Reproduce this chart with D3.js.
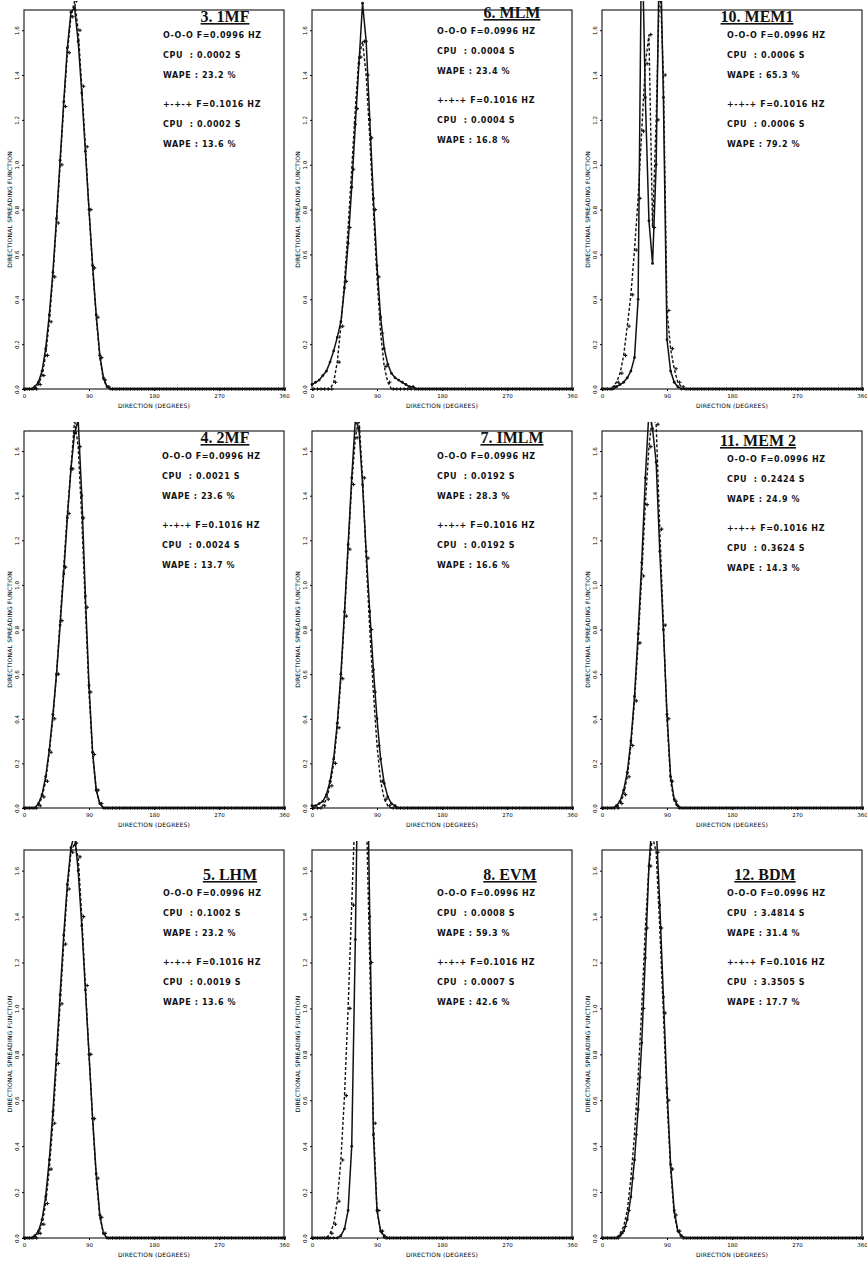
<!DOCTYPE html>
<html lang="en">
<head>
<meta charset="UTF-8">
<title>Directional spreading function - 9 methods</title>
<script src="https://d3js.org/d3.v7.min.js"></script>
<style>
  body { margin: 0; background: #fff; }
  svg { display: block; }
  .tick-lab { font-family: "DejaVu Sans", sans-serif; font-size: 5.5px; fill: #000; }
  .ax-title { font-family: "DejaVu Sans", sans-serif; font-size: 6px; fill: #000; letter-spacing: 0.2px; }
  .ptitle { font-family: "Liberation Serif", serif; font-weight: bold; font-size: 16px; fill: #111; text-decoration: underline; }
  .info { font-family: "DejaVu Sans", sans-serif; font-weight: bold; font-size: 8px; fill: #111; letter-spacing: 0.6px; }
</style>
</head>
<body>
<svg width="867" height="1261"></svg>
<script>
// direction grid (degrees)
var dirs = [0,5,10,15,20,25,30,35,40,45,50,55,60,65,70,75,80,85,90,95,100,105,110,115,
  120,125,130,135,140,145,150,155,160,165,170,175,180,185,190,195,200,205,210,215,220,225,230,235,
  240,245,250,255,260,265,270,275,280,285,290,295,300,305,310,315,320,325,330,335,340,345,350,355,360];

var xTicks = [0, 90, 180, 270, 360];
var yTicks = [0, 0.2, 0.4, 0.6, 0.8, 1.0, 1.2, 1.4, 1.6];

var titles = ["3. 1MF", "6. MLM", "10. MEM1", "4. 2MF", "7. IMLM", "11. MEM 2", "5. LHM", "8. EVM", "12. BDM"];
var freqA = "0.0996", freqB = "0.1016";
var cpuA  = ["0.0002", "0.0004", "0.0006", "0.0021", "0.0192", "0.2424", "0.1002", "0.0008", "3.4814"];
var wapeA = ["23.2", "23.4", "65.3", "23.6", "28.3", "24.9", "23.2", "59.3", "31.4"];
var cpuB  = ["0.0002", "0.0004", "0.0006", "0.0024", "0.0192", "0.3624", "0.0019", "0.0007", "3.3505"];
var wapeB = ["13.6", "16.8", "79.2", "13.7", "16.6", "14.3", "13.6", "42.6", "17.7"];

// series o-o-o (F=0.0996 Hz), one per panel
var mf1_o = [0,0,0,0.01,0.03,0.08,0.18,0.33,0.52,0.76,1.02,1.28, 1.52,1.68,1.70,1.55,1.32,1.06,0.80,0.55,0.33,0.15,0.05,0.01,
  0,0,0,0,0,0,0,0,0,0,0,0, 0,0,0,0,0,0,0,0,0,0,0,0, 0,0,0,0,0,0,0,0,0,0,0,0, 0,0,0,0,0,0,0,0,0,0,0,0, 0];
var mlm_o = [0.02,0.03,0.04,0.06,0.08,0.12,0.17,0.23,0.30,0.45,0.65,0.90, 1.18,1.45,1.72,1.55,1.20,0.85,0.55,0.32,0.18,0.11,0.07,0.05,
  0.04,0.03,0.02,0.01,0.01,0,0,0,0,0,0,0, 0,0,0,0,0,0,0,0,0,0,0,0, 0,0,0,0,0,0,0,0,0,0,0,0, 0,0,0,0,0,0,0,0,0,0,0,0, 0];
var mem1_o = [0,0,0,0,0.01,0.02,0.03,0.05,0.08,0.14,0.40,2.10, 1.30,0.75,0.56,1.00,2.10,1.30,0.22,0.08,0.03,0.01,0,0,
  0,0,0,0,0,0,0,0,0,0,0,0, 0,0,0,0,0,0,0,0,0,0,0,0, 0,0,0,0,0,0,0,0,0,0,0,0, 0,0,0,0,0,0,0,0,0,0,0,0, 0];
var mf2_o = [0,0,0,0,0.02,0.06,0.14,0.26,0.42,0.60,0.82,1.05, 1.30,1.52,1.68,1.74,1.40,0.95,0.55,0.25,0.08,0.02,0,0,
  0,0,0,0,0,0,0,0,0,0,0,0, 0,0,0,0,0,0,0,0,0,0,0,0, 0,0,0,0,0,0,0,0,0,0,0,0, 0,0,0,0,0,0,0,0,0,0,0,0, 0];
var imlm_o = [0.01,0.01,0.02,0.03,0.06,0.12,0.22,0.38,0.60,0.88,1.18,1.48, 1.74,1.70,1.45,1.15,0.88,0.62,0.40,0.22,0.11,0.05,0.02,0.01,
  0,0,0,0,0,0,0,0,0,0,0,0, 0,0,0,0,0,0,0,0,0,0,0,0, 0,0,0,0,0,0,0,0,0,0,0,0, 0,0,0,0,0,0,0,0,0,0,0,0, 0];
var mem2_o = [0,0,0,0,0.01,0.03,0.08,0.16,0.30,0.50,0.78,1.10, 1.48,1.78,1.70,1.55,1.15,0.80,0.42,0.14,0.04,0.01,0,0,
  0,0,0,0,0,0,0,0,0,0,0,0, 0,0,0,0,0,0,0,0,0,0,0,0, 0,0,0,0,0,0,0,0,0,0,0,0, 0,0,0,0,0,0,0,0,0,0,0,0, 0];
var lhm_o = [0,0,0,0.01,0.03,0.08,0.18,0.34,0.55,0.80,1.06,1.32, 1.54,1.70,1.76,1.60,1.36,1.08,0.80,0.52,0.28,0.10,0.02,0,
  0,0,0,0,0,0,0,0,0,0,0,0, 0,0,0,0,0,0,0,0,0,0,0,0, 0,0,0,0,0,0,0,0,0,0,0,0, 0,0,0,0,0,0,0,0,0,0,0,0, 0];
var evm_o = [0,0,0,0,0,0,0,0,0.01,0.04,0.12,0.40, 1.30,2.40,2.80,2.40,1.40,0.45,0.12,0.03,0.01,0,0,0,
  0,0,0,0,0,0,0,0,0,0,0,0, 0,0,0,0,0,0,0,0,0,0,0,0, 0,0,0,0,0,0,0,0,0,0,0,0, 0,0,0,0,0,0,0,0,0,0,0,0, 0];
var bdm_o = [0,0,0,0,0,0.01,0.03,0.08,0.18,0.34,0.56,0.85, 1.22,1.62,1.85,1.80,1.45,1.05,0.65,0.32,0.12,0.03,0.01,0,
  0,0,0,0,0,0,0,0,0,0,0,0, 0,0,0,0,0,0,0,0,0,0,0,0, 0,0,0,0,0,0,0,0,0,0,0,0, 0,0,0,0,0,0,0,0,0,0,0,0, 0];

// series +-+-+ (F=0.1016 Hz)
var mf1_p = [0,0,0,0,0.02,0.06,0.15,0.30,0.50,0.74,1.00,1.26, 1.50,1.66,1.73,1.60,1.35,1.08,0.80,0.54,0.32,0.14,0.04,0.01,
  0,0,0,0,0,0,0,0,0,0,0,0, 0,0,0,0,0,0,0,0,0,0,0,0, 0,0,0,0,0,0,0,0,0,0,0,0, 0,0,0,0,0,0,0,0,0,0,0,0, 0];
var mlm_p = [0,0,0,0,0,0,0.03,0.12,0.28,0.48,0.72,0.98, 1.25,1.48,1.55,1.40,1.12,0.80,0.50,0.25,0.10,0.03,0,0,
  0,0,0,0,0,0,0,0,0,0,0,0, 0,0,0,0,0,0,0,0,0,0,0,0, 0,0,0,0,0,0,0,0,0,0,0,0, 0,0,0,0,0,0,0,0,0,0,0,0, 0];
var mem1_p = [0,0,0,0.01,0.03,0.07,0.15,0.28,0.42,0.62,0.85,1.15, 1.45,1.58,0.72,1.20,1.85,1.40,0.35,0.18,0.09,0.03,0.01,0,
  0,0,0,0,0,0,0,0,0,0,0,0, 0,0,0,0,0,0,0,0,0,0,0,0, 0,0,0,0,0,0,0,0,0,0,0,0, 0,0,0,0,0,0,0,0,0,0,0,0, 0];
var mf2_p = [0,0,0,0,0.01,0.05,0.12,0.25,0.40,0.60,0.84,1.08, 1.32,1.52,1.74,1.62,1.30,0.90,0.52,0.24,0.08,0.02,0,0,
  0,0,0,0,0,0,0,0,0,0,0,0, 0,0,0,0,0,0,0,0,0,0,0,0, 0,0,0,0,0,0,0,0,0,0,0,0, 0,0,0,0,0,0,0,0,0,0,0,0, 0];
var imlm_p = [0,0,0,0.01,0.04,0.10,0.20,0.36,0.58,0.86,1.16,1.45, 1.66,1.75,1.48,1.12,0.80,0.52,0.28,0.12,0.04,0.01,0,0,
  0,0,0,0,0,0,0,0,0,0,0,0, 0,0,0,0,0,0,0,0,0,0,0,0, 0,0,0,0,0,0,0,0,0,0,0,0, 0,0,0,0,0,0,0,0,0,0,0,0, 0];
var mem2_p = [0,0,0,0,0,0.02,0.06,0.14,0.28,0.48,0.74,1.04, 1.36,1.62,1.76,1.72,1.25,0.82,0.40,0.12,0.03,0,0,0,
  0,0,0,0,0,0,0,0,0,0,0,0, 0,0,0,0,0,0,0,0,0,0,0,0, 0,0,0,0,0,0,0,0,0,0,0,0, 0,0,0,0,0,0,0,0,0,0,0,0, 0];
var lhm_p = [0,0,0,0,0.02,0.06,0.15,0.30,0.50,0.76,1.02,1.28, 1.52,1.68,1.72,1.66,1.40,1.10,0.80,0.52,0.26,0.09,0.02,0,
  0,0,0,0,0,0,0,0,0,0,0,0, 0,0,0,0,0,0,0,0,0,0,0,0, 0,0,0,0,0,0,0,0,0,0,0,0, 0,0,0,0,0,0,0,0,0,0,0,0, 0];
var evm_p = [0,0,0,0,0,0.02,0.06,0.16,0.34,0.62,1.00,1.45, 1.90,2.20,2.20,1.90,1.20,0.50,0.12,0.03,0,0,0,0,
  0,0,0,0,0,0,0,0,0,0,0,0, 0,0,0,0,0,0,0,0,0,0,0,0, 0,0,0,0,0,0,0,0,0,0,0,0, 0,0,0,0,0,0,0,0,0,0,0,0, 0];
var bdm_p = [0,0,0,0,0,0.02,0.05,0.12,0.26,0.45,0.70,1.00, 1.35,1.62,1.75,1.68,1.35,0.98,0.60,0.30,0.10,0.03,0,0,
  0,0,0,0,0,0,0,0,0,0,0,0, 0,0,0,0,0,0,0,0,0,0,0,0, 0,0,0,0,0,0,0,0,0,0,0,0, 0,0,0,0,0,0,0,0,0,0,0,0, 0];

// panel order: row by row
var seriesO = [mf1_o, mlm_o, mem1_o, mf2_o, imlm_o, mem2_o, lhm_o, evm_o, bdm_o];
var seriesP = [mf1_p, mlm_p, mem1_p, mf2_p, imlm_p, mem2_p, lhm_p, evm_p, bdm_p];

// layout
var colX = [24, 312, 602], plotW = 260;
var rowTop = [10, 431, 850], rowBot = [389, 808, 1238];
var textTop = [12, 8, 12, 433, 433, 436, 870, 870, 870];
var textLeft = [163, 437, 727, 162, 437, 727, 163, 437, 727];
var titleX = [225, 512, 757, 225, 512, 758, 230, 510, 765];

var svg = d3.select("svg");
svg.append("rect").attr("width", 867).attr("height", 1261).attr("fill", "#fff");

titles.forEach(function(t, i) {
    var c = i % 3, r = Math.floor(i / 3);
    var x0 = colX[c], y0 = rowTop[r], y1 = rowBot[r];

    var x = d3.scaleLinear().domain([0, 360]).range([x0, x0 + plotW]);
    var y = d3.scaleLinear().domain([0, 1.69]).range([y1, y0]);

    var g = svg.append("g");

    // clip lets peaks poke a little above the frame
    svg.append("clipPath").attr("id", "clip" + i)
        .append("rect").attr("x", x0 - 2).attr("y", Math.max(0, y0 - 9))
        .attr("width", plotW + 4).attr("height", y1 - Math.max(0, y0 - 9) + 3);

    // axes
    var xAxis = d3.axisBottom(x).tickValues(xTicks).tickSize(2).tickPadding(3)
        .tickFormat(d3.format("d"));
    g.append("g").attr("transform", "translate(0," + y1 + ")").call(xAxis)
        .call(function(s) {
            s.select(".domain").remove();
            s.selectAll("line").attr("stroke", "#000");
            s.selectAll("text").attr("class", "tick-lab").attr("font-size", null)
                .attr("font-family", null).attr("fill", null);
        });

    var yAxis = d3.axisLeft(y).tickValues(yTicks).tickSize(2).tickPadding(0)
        .tickFormat(d3.format(".1f"));
    g.append("g").attr("transform", "translate(" + x0 + ",0)").call(yAxis)
        .call(function(s) {
            s.select(".domain").remove();
            s.selectAll("line").attr("stroke", "#000");
            s.selectAll("text").attr("class", "tick-lab").attr("font-size", null)
                .attr("font-family", null).attr("fill", null)
                .attr("text-anchor", "middle").attr("dy", null)
                .attr("transform", "translate(-5,0) rotate(-90)").attr("x", 0).attr("y", 0);
        });

    // frame
    g.append("rect").attr("x", x0).attr("y", y0).attr("width", plotW).attr("height", y1 - y0)
        .attr("fill", "none").attr("stroke", "#111").attr("stroke-width", 1.1);

    // axis titles
    g.append("text").attr("class", "ax-title").attr("x", x0 + plotW / 2).attr("y", y1 + 19)
        .attr("text-anchor", "middle").text("DIRECTION (DEGREES)");
    g.append("text").attr("class", "ax-title")
        .attr("transform", "translate(" + (x0 - 12) + "," + ((y0 + y1) / 2 + 10) + ") rotate(-90)")
        .attr("text-anchor", "middle").text("DIRECTIONAL SPREADING FUNCTION");

    // curves
    var line = d3.line().x(function(d) { return x(d[0]); }).y(function(d) { return y(d[1]); });
    var ptsO = dirs.map(function(d, k) { return [d, seriesO[i][k]]; });
    var ptsP = dirs.map(function(d, k) { return [d, seriesP[i][k]]; });

    var cg = g.append("g").attr("clip-path", "url(#clip" + i + ")");
    cg.append("path").datum(ptsO).attr("d", line).attr("fill", "none")
        .attr("stroke", "#111").attr("stroke-width", 1.5);
    cg.append("path").datum(ptsP).attr("d", line).attr("fill", "none")
        .attr("stroke", "#111").attr("stroke-width", 1.4).attr("stroke-dasharray", "3,2");

    cg.selectAll(".mo").data(ptsO).enter().append("circle")
        .attr("cx", function(d) { return x(d[0]); }).attr("cy", function(d) { return y(d[1]); })
        .attr("r", 1.4).attr("fill", "#111");
    cg.selectAll(".mp").data(ptsP).enter().append("path")
        .attr("d", function(d) {
            var px = x(d[0]) + 1.8, py = y(d[1]);
            return "M" + (px - 1.8) + "," + py + "h3.6M" + px + "," + (py - 1.8) + "v3.6";
        })
        .attr("stroke", "#111").attr("stroke-width", 1.1);

    // title + info block
    g.append("text").attr("class", "ptitle").attr("x", titleX[i]).attr("y", textTop[i] + 10)
        .attr("text-anchor", "middle").text(t);

    var lines = [
        ["O-O-O F=" + freqA + " HZ", 26],
        ["CPU  : " + cpuA[i] + " S", 46],
        ["WAPE : " + wapeA[i] + " %", 66],
        ["+-+-+ F=" + freqB + " HZ", 95],
        ["CPU  : " + cpuB[i] + " S", 115],
        ["WAPE : " + wapeB[i] + " %", 135]
    ];
    lines.forEach(function(l) {
        g.append("text").attr("class", "info").attr("x", textLeft[i]).attr("y", textTop[i] + l[1])
            .attr("xml:space", "preserve").text(l[0]);
    });
});
</script>
</body>
</html>
